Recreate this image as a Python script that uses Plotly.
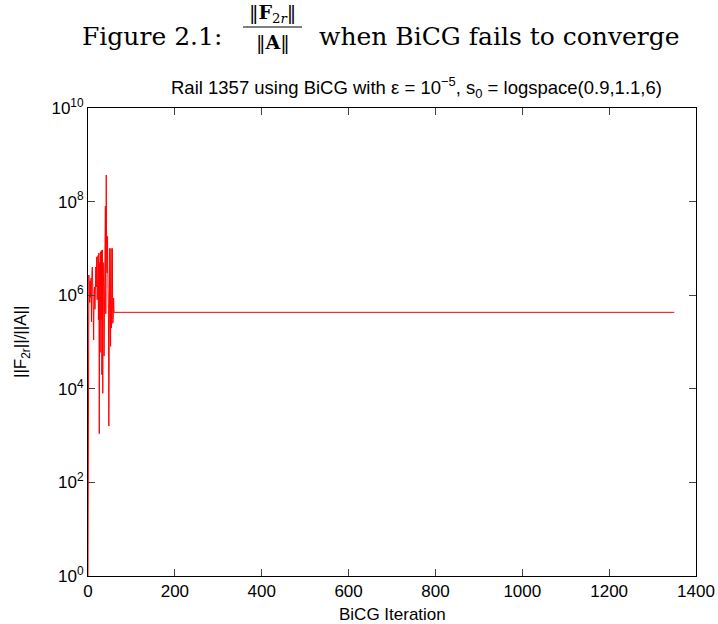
import plotly.graph_objects as go

# ---- data ----
iterations = list(range(0, 61)) + [1350]
ratio_values = [
    1.0, 2.5e5, 2.7e6, 1.2e6, 7.0e5, 2.0e6, 9.0e5, 2.3e6, 2.7e5, 3.0e6,
    4.0e6, 1.5e6, 3.0e5, 1.1e5, 1.2e6, 1.5e6, 5.0e5, 2.5e6, 4.0e6, 1.5e6,
    6.6e6, 8.0e5, 1.2e6, 7.0e6, 3.0e5, 8.0e6, 1.1e3, 5.0e6, 6.0e4, 8.5e6,
    3.0e5, 9.0e6, 2.0e4, 9.3e6, 8.0e3, 5.0e6, 1.5e6, 5.0e4, 6.0e6, 2.0e7,
    8.0e7, 4.0e5, 3.7e8, 5.0e6, 3.0e6, 1.8e7, 2.0e6, 5.0e5, 1.6e3, 8.0e6,
    1.0e7, 3.0e6, 8.0e4, 1.0e7, 2.0e5, 5.0e5, 1.0e7, 2.5e5, 3.0e5, 8.7e5,
    4.3e5, 4.3e5,
]
x_ticks = [0, 200, 400, 600, 800, 1000, 1200, 1400]
y_tick_vals = [1e0, 1e2, 1e4, 1e6, 1e8, 1e10]
y_tick_text = ["10<sup>0</sup>", "10<sup>2</sup>", "10<sup>4</sup>",
               "10<sup>6</sup>", "10<sup>8</sup>", "10<sup>10</sup>"]

W, H = 718, 624
ML, MR, MT, MB = 88, 22, 108, 48
PW, PH = W - ML - MR, H - MT - MB


def px(x):
    return (x - ML) / PW


def py(y):
    return (H - MB - y) / PH


fig = go.Figure()
fig.add_trace(go.Scatter(
    x=iterations, y=ratio_values, mode="lines",
    line=dict(color="#ff0000", width=1), showlegend=False,
))

serif = "DejaVu Serif"
sans = "Liberation Sans, Arial, sans-serif"

annotations = [
    dict(text="Figure 2.1:", x=px(224), y=py(36), xanchor="right", yanchor="middle",
         font=dict(family=serif, size=25, color="black")),
    dict(text="‖<b>F</b><sub>2<i>r</i></sub>‖", x=px(272.5), y=py(13), xanchor="center",
         yanchor="middle", font=dict(family=serif, size=19, color="black")),
    dict(text="‖<b>A</b>‖", x=px(272.5), y=py(42), xanchor="center", yanchor="middle",
         font=dict(family=serif, size=19, color="black")),
    dict(text="when BiCG fails to converge", x=px(317), y=py(36), xanchor="left",
         yanchor="middle", font=dict(family=serif, size=25, color="black")),
    dict(text="Rail 1357 using BiCG with ε = 10<sup>−5</sup>, s<sub>0</sub> = logspace(0.9,1.1,6)",
         x=px(416), y=py(88), xanchor="center", yanchor="middle",
         font=dict(family=sans, size=18.5, color="black")),
    dict(text="BiCG Iteration", x=px(392), y=py(614), xanchor="center", yanchor="middle",
         font=dict(family=sans, size=17, color="black")),
    dict(text="||F<sub>2r</sub>||/||A||", x=px(22), y=py(342), xanchor="center",
         yanchor="middle", textangle=-90,
         font=dict(family=sans, size=17, color="black")),
]
for a in annotations:
    a.update(xref="paper", yref="paper", showarrow=False)

fig.update_layout(
    width=W, height=H,
    margin=dict(l=ML, r=MR, t=MT, b=MB, pad=0),
    paper_bgcolor="white", plot_bgcolor="white",
    annotations=annotations,
    shapes=[dict(type="line", xref="paper", yref="paper",
                 x0=px(243), x1=px(302), y0=py(27), y1=py(27),
                 line=dict(color="black", width=1))],
    font=dict(family=sans, size=17, color="black"),
)
fig.update_xaxes(
    range=[0, 1400], tickvals=x_ticks, ticks="inside", ticklen=7,
    showline=True, linecolor="black", linewidth=1, mirror="ticks",
    showgrid=False, zeroline=False, automargin=False,
    tickfont=dict(size=17),
)
fig.update_yaxes(
    type="log", range=[0, 10], tickvals=y_tick_vals, ticktext=y_tick_text,
    ticks="inside", ticklen=7,
    showline=True, linecolor="black", linewidth=1, mirror="ticks",
    showgrid=False, zeroline=False, automargin=False,
    tickfont=dict(size=17),
)

fig.write_html("out.html")
